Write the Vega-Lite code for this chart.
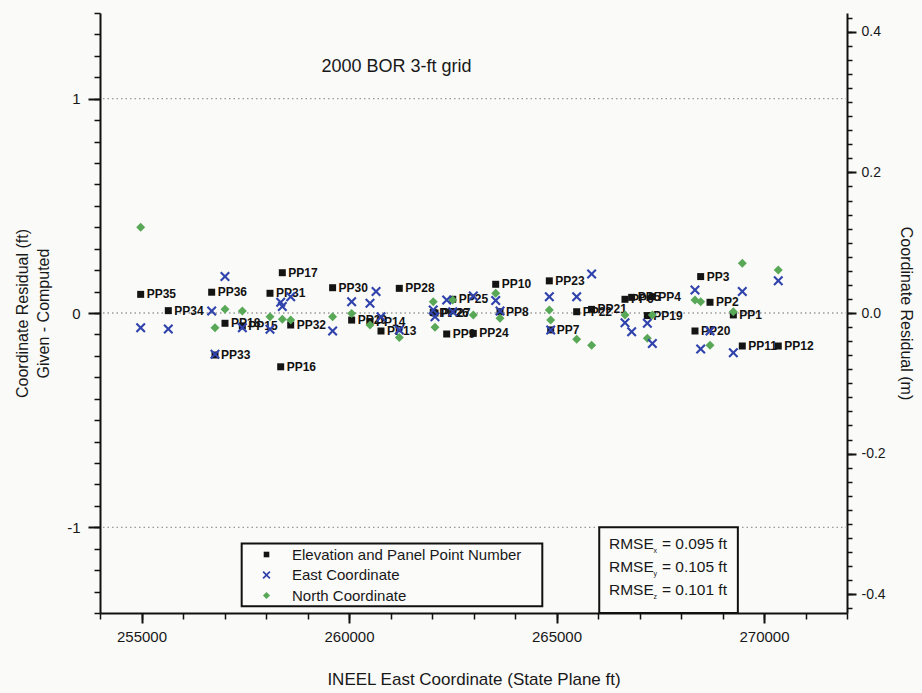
{
  "$schema": "https://vega.github.io/schema/vega-lite/v6.json",
  "width": 747,
  "height": 600,
  "autosize": {"type": "none"},
  "padding": {"left": 100, "top": 13, "right": 75, "bottom": 80},
  "background": "#fafaf8",
  "datasets": {
    "residuals": [
      {"pp": "PP35", "easting": 254980, "Elevation and Panel Point Number": 0.087, "East Coordinate": -0.069, "North Coordinate": 0.40},
      {"pp": "PP34", "easting": 255646, "Elevation and Panel Point Number": 0.011, "East Coordinate": -0.075, "North Coordinate": null},
      {"pp": "PP36", "easting": 256691, "Elevation and Panel Point Number": 0.097, "East Coordinate": 0.009, "North Coordinate": null},
      {"pp": "PP33", "easting": 256771, "Elevation and Panel Point Number": -0.196, "East Coordinate": -0.193, "North Coordinate": -0.069},
      {"pp": "PP18", "easting": 257012, "Elevation and Panel Point Number": -0.048, "East Coordinate": 0.170, "North Coordinate": 0.017},
      {"pp": "PP15", "easting": 257430, "Elevation and Panel Point Number": -0.060, "East Coordinate": -0.069, "North Coordinate": 0.009},
      {"pp": "PP31", "easting": 258096, "Elevation and Panel Point Number": 0.092, "East Coordinate": -0.076, "North Coordinate": -0.017},
      {"pp": "PP16", "easting": 258354, "Elevation and Panel Point Number": -0.251, "East Coordinate": 0.050, "North Coordinate": null},
      {"pp": "PP17", "easting": 258393, "Elevation and Panel Point Number": 0.188, "East Coordinate": 0.030, "North Coordinate": -0.029},
      {"pp": "PP32", "easting": 258595, "Elevation and Panel Point Number": -0.056, "East Coordinate": 0.076, "North Coordinate": -0.033},
      {"pp": "PP30", "easting": 259605, "Elevation and Panel Point Number": 0.118, "East Coordinate": -0.084, "North Coordinate": -0.017},
      {"pp": "PP29", "easting": 260064, "Elevation and Panel Point Number": -0.033, "East Coordinate": 0.053, "North Coordinate": -0.002},
      {"pp": "PP14", "easting": 260506, "Elevation and Panel Point Number": -0.040, "East Coordinate": 0.045, "North Coordinate": -0.056},
      {"pp": null, "easting": 260651, "Elevation and Panel Point Number": null, "East Coordinate": 0.100, "North Coordinate": null},
      {"pp": "PP13", "easting": 260771, "Elevation and Panel Point Number": -0.084, "East Coordinate": -0.017, "North Coordinate": null},
      {"pp": "PP28", "easting": 261212, "Elevation and Panel Point Number": 0.115, "East Coordinate": -0.079, "North Coordinate": -0.114},
      {"pp": "PP26", "easting": 262030, "Elevation and Panel Point Number": 0.002, "East Coordinate": 0.014, "North Coordinate": 0.053},
      {"pp": "PP27", "easting": 262072, "Elevation and Panel Point Number": 0.000, "East Coordinate": -0.017, "North Coordinate": -0.067},
      {"pp": "PP9", "easting": 262354, "Elevation and Panel Point Number": -0.098, "East Coordinate": 0.061, "North Coordinate": null},
      {"pp": "PP25", "easting": 262500, "Elevation and Panel Point Number": 0.064, "East Coordinate": 0.006, "North Coordinate": 0.061},
      {"pp": "PP24", "easting": 262995, "Elevation and Panel Point Number": -0.095, "East Coordinate": 0.079, "North Coordinate": -0.009},
      {"pp": "PP10", "easting": 263535, "Elevation and Panel Point Number": 0.134, "East Coordinate": 0.058, "North Coordinate": 0.092},
      {"pp": "PP8", "easting": 263639, "Elevation and Panel Point Number": 0.006, "East Coordinate": 0.009, "North Coordinate": -0.025},
      {"pp": "PP23", "easting": 264827, "Elevation and Panel Point Number": 0.150, "East Coordinate": 0.076, "North Coordinate": 0.014},
      {"pp": "PP7", "easting": 264860, "Elevation and Panel Point Number": -0.079, "East Coordinate": -0.079, "North Coordinate": -0.033},
      {"pp": "PP22", "easting": 265486, "Elevation and Panel Point Number": 0.006, "East Coordinate": 0.076, "North Coordinate": -0.123},
      {"pp": "PP21", "easting": 265846, "Elevation and Panel Point Number": 0.017, "East Coordinate": 0.182, "North Coordinate": -0.150},
      {"pp": "PP6", "easting": 266650, "Elevation and Panel Point Number": 0.064, "East Coordinate": -0.045, "North Coordinate": -0.009},
      {"pp": "PP5", "easting": 266811, "Elevation and Panel Point Number": 0.073, "East Coordinate": -0.087, "North Coordinate": null},
      {"pp": "PP19", "easting": 267189, "Elevation and Panel Point Number": -0.012, "East Coordinate": -0.048, "North Coordinate": -0.118},
      {"pp": "PP4", "easting": 267310, "Elevation and Panel Point Number": 0.076, "East Coordinate": -0.142, "North Coordinate": -0.009},
      {"pp": "PP20", "easting": 268337, "Elevation and Panel Point Number": -0.084, "East Coordinate": 0.107, "North Coordinate": 0.061},
      {"pp": "PP3", "easting": 268474, "Elevation and Panel Point Number": 0.170, "East Coordinate": -0.168, "North Coordinate": 0.053},
      {"pp": "PP2", "easting": 268699, "Elevation and Panel Point Number": 0.050, "East Coordinate": -0.084, "North Coordinate": -0.150},
      {"pp": "PP1", "easting": 269261, "Elevation and Panel Point Number": -0.009, "East Coordinate": -0.185, "North Coordinate": 0.006},
      {"pp": "PP11", "easting": 269477, "Elevation and Panel Point Number": -0.154, "East Coordinate": 0.100, "North Coordinate": 0.232},
      {"pp": "PP12", "easting": 270344, "Elevation and Panel Point Number": -0.154, "East Coordinate": 0.151, "North Coordinate": 0.201}
    ],
    "referenceLevels": [{"level": 1}, {"level": 0}, {"level": -1}]
  },
  "config": {
    "view": {"stroke": null},
    "font": "Liberation Sans",
    "axis": {
      "labelFont": "Liberation Sans",
      "titleFont": "Liberation Sans",
      "labelColor": "#181818",
      "titleColor": "#181818",
      "titleFontWeight": "normal",
      "domainColor": "#111111",
      "tickColor": "#111111",
      "grid": false
    },
    "legend": {
      "labelFont": "Liberation Sans",
      "labelColor": "#181818"
    }
  },
  "resolve": {"scale": {"y": "independent"}, "axis": {"x": "independent", "y": "independent"}},
  "layer": [
    {
      "resolve": {"axis": {"x": "independent", "y": "independent"}},
      "layer": [
        {
          "data": {"name": "referenceLevels"},
          "mark": {"type": "rule", "color": "#9a9a9a", "strokeDash": [1.5, 3], "strokeWidth": 1.3},
          "encoding": {
            "y": {
              "field": "level",
              "type": "quantitative",
              "scale": {"domain": [-1.4, 1.4], "nice": false, "zero": false},
              "axis": {
                "orient": "left",
                "values": [-1, 0, 1],
                "format": "d",
                "labelExpr": "replace(datum.label, '\u2212', '-')",
                "title": ["Coordinate Residual (ft)", "Given - Computed"],
                "titleFontSize": 16,
                "titleLineHeight": 21,
                "titlePadding": 15,
                "labelFontSize": 15,
                "labelPadding": 8,
                "tickSize": 12,
                "tickWidth": 2,
                "domainWidth": 2
              }
            }
          }
        },
        {
          "data": {"values": [{}]},
          "mark": {"type": "rect", "fill": "#fbfbfa", "stroke": "#111111", "strokeWidth": 2},
          "encoding": {
            "x": {"datum": 257414, "type": "quantitative", "scale": {"domain": [254000, 272000], "nice": false, "zero": false}, "axis": null},
            "x2": {"datum": 264658},
            "y": {
              "datum": -1.076,
              "type": "quantitative",
              "axis": {
                "orient": "left",
                "values": [-1.4, -1.3, -1.2, -1.1, -1, -0.9, -0.8, -0.7, -0.6, -0.5, -0.4, -0.3, -0.2, -0.1, 0, 0.1, 0.2, 0.3, 0.4, 0.5, 0.6, 0.7, 0.8, 0.9, 1, 1.1, 1.2, 1.3, 1.4],
                "labels": false,
                "domain": false,
                "tickSize": 6,
                "tickWidth": 1.5,
                "title": null
              }
            },
            "y2": {"datum": -1.369}
          }
        },
        {
          "data": {"values": [{}]},
          "mark": {"type": "rect", "fill": "#fbfbfa", "stroke": "#111111", "strokeWidth": 2},
          "encoding": {
            "x": {"datum": 266030, "type": "quantitative", "axis": null},
            "x2": {"datum": 269370},
            "y": {"datum": -1.0, "type": "quantitative", "axis": null},
            "y2": {"datum": -1.4}
          }
        },
        {
          "data": {"values": [{}]},
          "mark": {"type": "text", "text": "2000 BOR 3-ft grid", "font": "Liberation Sans", "fontSize": 18, "color": "#181818", "align": "center", "baseline": "middle"},
          "encoding": {
            "x": {"datum": 261145, "type": "quantitative", "axis": null},
            "y": {"datum": 1.149, "type": "quantitative", "axis": null}
          }
        },
        {
          "data": {"values": [{}]},
          "mark": {"type": "text", "text": ["RMSE", "RMSE", "RMSE"], "lineHeight": 23, "font": "Liberation Sans", "fontSize": 15.5, "color": "#181818", "align": "left", "baseline": "middle"},
          "encoding": {
            "x": {"datum": 266265, "type": "quantitative", "axis": null},
            "y": {"datum": -1.078, "type": "quantitative", "axis": null}
          }
        },
        {
          "data": {"values": [{}]},
          "mark": {"type": "text", "text": ["x", "y", "z"], "lineHeight": 23, "font": "Liberation Sans", "fontSize": 7, "color": "#181818", "align": "left", "baseline": "middle", "dy": 7},
          "encoding": {
            "x": {"datum": 267340, "type": "quantitative", "axis": null},
            "y": {"datum": -1.078, "type": "quantitative", "axis": null}
          }
        },
        {
          "data": {"values": [{}]},
          "mark": {"type": "text", "text": ["= 0.095 ft", "= 0.105 ft", "= 0.101 ft"], "lineHeight": 23, "font": "Liberation Sans", "fontSize": 15.5, "color": "#181818", "align": "left", "baseline": "middle"},
          "encoding": {
            "x": {"datum": 267540, "type": "quantitative", "axis": null},
            "y": {"datum": -1.078, "type": "quantitative", "axis": null}
          }
        },
        {
          "data": {"name": "residuals"},
          "transform": [{"filter": "isValid(datum.pp) && isValid(datum['Elevation and Panel Point Number'])"}],
          "mark": {"type": "text", "align": "left", "baseline": "middle", "dx": 6, "font": "Liberation Sans", "fontSize": 12, "fontWeight": "bold", "color": "#111111"},
          "encoding": {
            "x": {"field": "easting", "type": "quantitative", "axis": null},
            "y": {"field": "Elevation and Panel Point Number", "type": "quantitative", "axis": null},
            "text": {"field": "pp", "type": "nominal"}
          }
        },
        {
          "data": {"name": "residuals"},
          "transform": [
            {"fold": ["Elevation and Panel Point Number", "East Coordinate", "North Coordinate"], "as": ["series", "residual"]},
            {"filter": {"field": "series", "equal": "Elevation and Panel Point Number"}}
          ],
          "mark": {"type": "point", "filled": true, "opacity": 1, "size": 100, "strokeWidth": 0},
          "encoding": {
            "x": {
              "field": "easting",
              "type": "quantitative",
              "axis": {
                "orient": "bottom",
                "values": [255000, 260000, 265000, 270000],
                "format": "d",
                "title": "INEEL East Coordinate (State Plane ft)",
                "titleFontSize": 17,
                "titlePadding": 27,
                "labelFontSize": 15,
                "labelPadding": 6,
                "tickSize": 10,
                "tickWidth": 2,
                "domainWidth": 2
              }
            },
            "y": {"field": "residual", "type": "quantitative", "axis": null},
            "color": {
              "field": "series",
              "type": "nominal",
              "scale": {
                "domain": ["Elevation and Panel Point Number", "East Coordinate", "North Coordinate"],
                "range": ["#141414", "#3043ac", "#58a858"]
              },
              "legend": {
                "title": null,
                "orient": "none",
                "legendX": 159,
                "legendY": 534,
                "padding": 0,
                "symbolSize": 64,
                "symbolStrokeWidth": 0,
                "labelFontSize": 15,
                "labelLimit": 400,
                "labelOffset": 18,
                "rowPadding": 4.5
              }
            },
            "shape": {
              "field": "series",
              "type": "nominal",
              "scale": {
                "domain": ["Elevation and Panel Point Number", "East Coordinate", "North Coordinate"],
                "range": [
                  "M-0.7,-0.7H0.7V0.7H-0.7Z",
                  "M-1,-0.7L-0.7,-1L0,-0.3L0.7,-1L1,-0.7L0.3,0L1,0.7L0.7,1L0,0.3L-0.7,1L-1,0.7L-0.3,0Z",
                  "M0,-0.9L0.9,0L0,0.9L-0.9,0Z"
                ]
              }
            }
          }
        },
        {
          "data": {"name": "residuals"},
          "transform": [
            {"fold": ["Elevation and Panel Point Number", "East Coordinate", "North Coordinate"], "as": ["series", "residual"]},
            {"filter": {"field": "series", "equal": "North Coordinate"}}
          ],
          "mark": {"type": "point", "filled": true, "opacity": 1, "size": 100, "strokeWidth": 0},
          "encoding": {
            "x": {"field": "easting", "type": "quantitative", "axis": null},
            "y": {"field": "residual", "type": "quantitative", "axis": null},
            "color": {"field": "series", "type": "nominal"},
            "shape": {"field": "series", "type": "nominal"}
          }
        },
        {
          "data": {"name": "residuals"},
          "transform": [
            {"fold": ["Elevation and Panel Point Number", "East Coordinate", "North Coordinate"], "as": ["series", "residual"]},
            {"filter": {"field": "series", "equal": "East Coordinate"}}
          ],
          "mark": {"type": "point", "filled": true, "opacity": 1, "size": 100, "strokeWidth": 0},
          "encoding": {
            "x": {
              "field": "easting",
              "type": "quantitative",
              "axis": {
                "orient": "bottom",
                "values": [254000, 255000, 256000, 257000, 258000, 259000, 260000, 261000, 262000, 263000, 264000, 265000, 266000, 267000, 268000, 269000, 270000, 271000, 272000],
                "labels": false,
                "domain": false,
                "tickSize": 6,
                "tickWidth": 1.5,
                "title": null
              }
            },
            "y": {"field": "residual", "type": "quantitative", "axis": null},
            "color": {"field": "series", "type": "nominal"},
            "shape": {"field": "series", "type": "nominal"}
          }
        }
      ]
    },
    {
      "data": {"values": [{}]},
      "mark": {"type": "rule", "opacity": 0},
      "encoding": {
        "y": {
          "datum": 0,
          "type": "quantitative",
          "scale": {"domain": [-0.42672, 0.42672], "nice": false, "zero": false},
          "axis": {
            "orient": "right",
            "values": [-0.4, -0.2, 0, 0.2, 0.4],
            "format": ".1f",
            "labelExpr": "replace(datum.label, '\u2212', '-')",
            "title": "Coordinate Residual (m)",
            "titleFontSize": 16,
            "titlePadding": 12,
            "labelFontSize": 14,
            "labelPadding": 5,
            "tickSize": 9,
            "tickWidth": 2,
            "domainWidth": 2
          }
        }
      }
    },
    {
      "data": {"values": [{}]},
      "mark": {"type": "rule", "opacity": 0},
      "encoding": {
        "y": {
          "datum": 0,
          "type": "quantitative",
          "scale": {"domain": [-0.42672, 0.42672], "nice": false, "zero": false},
          "axis": {
            "orient": "right",
            "values": [-0.42, -0.4, -0.38, -0.36, -0.34, -0.32, -0.3, -0.28, -0.26, -0.24, -0.22, -0.2, -0.18, -0.16, -0.14, -0.12, -0.1, -0.08, -0.06, -0.04, -0.02, 0, 0.02, 0.04, 0.06, 0.08, 0.1, 0.12, 0.14, 0.16, 0.18, 0.2, 0.22, 0.24, 0.26, 0.28, 0.3, 0.32, 0.34, 0.36, 0.38, 0.4, 0.42],
            "labels": false,
            "domain": false,
            "tickSize": 5,
            "tickWidth": 1.5,
            "title": null
          }
        }
      }
    }
  ]
}
